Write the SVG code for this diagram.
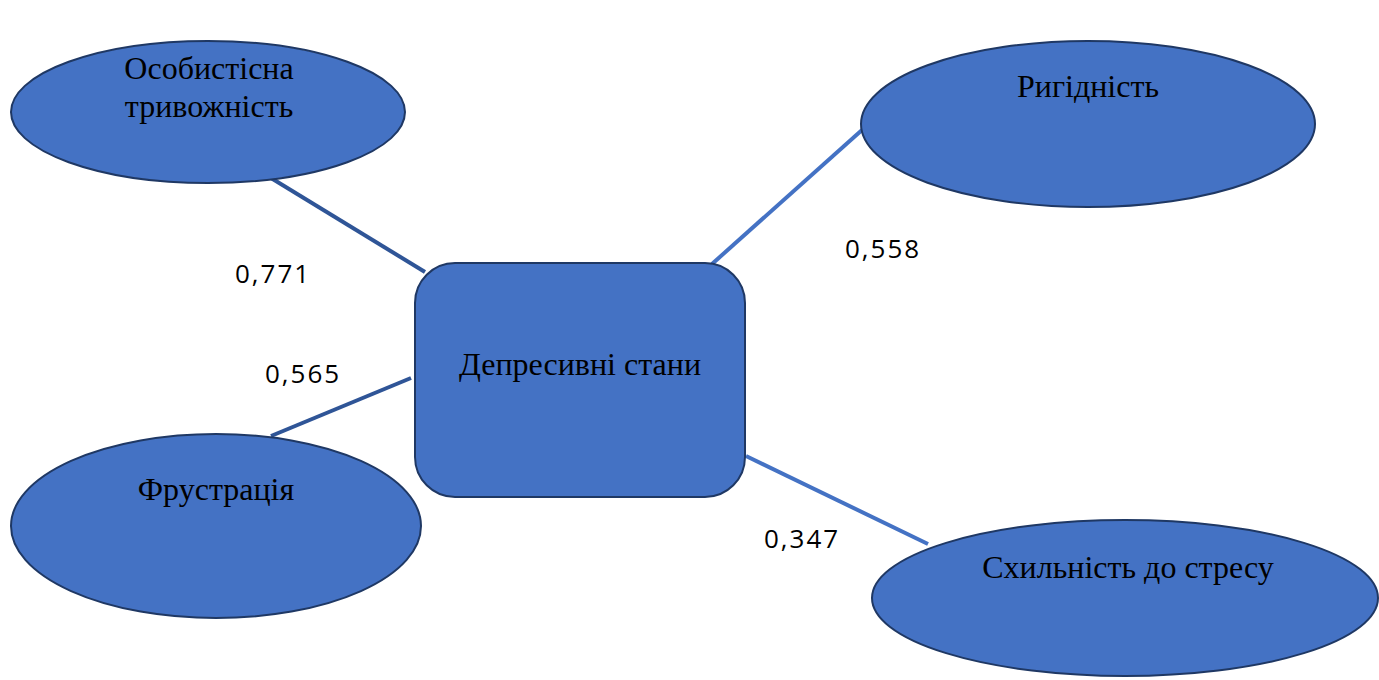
<svg xmlns="http://www.w3.org/2000/svg" width="1379" height="680" viewBox="0 0 1379 680">
<style>
.n{fill:#4472C4;stroke:#1F3864;stroke-width:2}
.t{font-family:"Liberation Serif",serif;font-size:32px;fill:#000;text-anchor:middle}
.l{font-family:"Open Sans","Liberation Sans",sans-serif;font-size:26px;letter-spacing:2px;fill:#000}
.d{stroke:#2F5597;stroke-width:4;fill:none}
.b{stroke:#4472C4;stroke-width:4;fill:none}
</style>
<rect width="1379" height="680" fill="#fff"/>
<g id="connectors">
<line class="d" x1="271" y1="178" x2="425" y2="272"/>
<line class="b" x1="712" y1="264" x2="862" y2="130"/>
<line class="d" x1="271" y1="436" x2="411" y2="378"/>
<line class="b" x1="746" y1="456" x2="928" y2="544"/>
</g>
<g id="n-anxiety">
<ellipse class="n" cx="208" cy="112" rx="197" ry="71"/>
<text class="t" x="209" y="79">Особистісна</text>
<text class="t" x="209" y="117">тривожність</text>
</g>
<g id="n-rigidity">
<ellipse class="n" cx="1088" cy="124" rx="227" ry="83"/>
<text class="t" x="1088" y="97">Ригідність</text>
</g>
<g id="n-frustration">
<ellipse class="n" cx="216" cy="526" rx="205" ry="92"/>
<text class="t" x="216" y="500">Фрустрація</text>
</g>
<g id="n-stress">
<ellipse class="n" cx="1125" cy="598" rx="253" ry="78"/>
<text class="t" x="1128" y="578">Схильність до стресу</text>
</g>
<g id="n-depression">
<rect class="n" x="415" y="263" width="330" height="234" rx="40"/>
<text class="t" x="580" y="375">Депресивні стани</text>
</g>
<g id="labels">
<text class="l" x="235" y="283">0,771</text>
<text class="l" x="845" y="258">0,558</text>
<text class="l" x="265" y="383">0,565</text>
<text class="l" x="764" y="548">0,347</text>
</g>
</svg>
